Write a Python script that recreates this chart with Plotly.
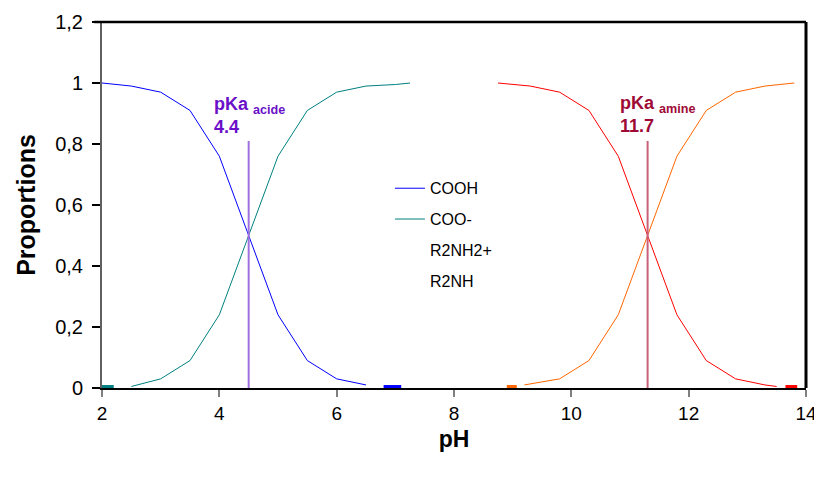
import plotly.graph_objects as go

# ---- data ----
ph_cooh = [2, 2.5, 3, 3.5, 4, 4.5, 5, 5.5, 6, 6.5]
cooh = [1.0, 0.99, 0.97, 0.91, 0.76, 0.5, 0.24, 0.09, 0.03, 0.01]

ph_coo = [2.5, 3, 3.5, 4, 4.5, 5, 5.5, 6, 6.5, 7, 7.25]
coo = [0.005, 0.03, 0.09, 0.24, 0.5, 0.76, 0.91, 0.97, 0.99, 0.995, 1.0]

ph_r2nh2 = [8.75, 9.3, 9.8, 10.3, 10.8, 11.3, 11.8, 12.3, 12.8, 13.3, 13.5]
r2nh2 = [1.0, 0.99, 0.97, 0.91, 0.76, 0.5, 0.24, 0.09, 0.03, 0.01, 0.005]

ph_r2nh = [9.2, 9.8, 10.3, 10.8, 11.3, 11.8, 12.3, 12.8, 13.3, 13.8]
r2nh = [0.01, 0.03, 0.09, 0.24, 0.5, 0.76, 0.91, 0.97, 0.99, 1.0]

# short thick segments lying on the zero line (start, end)
zero_cooh = [6.8, 7.1]
zero_coo = [2.0, 2.2]
zero_r2nh2 = [13.65, 13.85]
zero_r2nh = [8.9, 9.07]

pka_acide_x = 4.5
pka_amine_x = 11.3
pka_line_top = 0.81
pka_acide_label = "4.4"
pka_amine_label = "11.7"

x_ticks = [2, 4, 6, 8, 10, 12, 14]
y_ticks = [0, 0.2, 0.4, 0.6, 0.8, 1.0, 1.2]

FONT = "Liberation Sans, Arial, sans-serif"
C_COOH = "#0000FF"
C_COO = "#008080"
C_R2NH2 = "#FF0000"
C_R2NH = "#FF6600"

fig = go.Figure()

fig.add_trace(go.Scatter(x=ph_cooh, y=cooh, mode="lines", name="COOH",
                         line=dict(color=C_COOH, width=1), legendgroup="a"))
fig.add_trace(go.Scatter(x=ph_coo, y=coo, mode="lines", name="COO-",
                         line=dict(color=C_COO, width=1), legendgroup="b"))
fig.add_trace(go.Scatter(x=ph_r2nh2, y=r2nh2, mode="lines", name="R2NH2+",
                         line=dict(color=C_R2NH2, width=1), showlegend=False))
fig.add_trace(go.Scatter(x=ph_r2nh, y=r2nh, mode="lines", name="R2NH",
                         line=dict(color=C_R2NH, width=1), showlegend=False))
# legend-only entries without a line sample
fig.add_trace(go.Scatter(x=[None], y=[None], mode="lines", name="R2NH2+",
                         line=dict(color="rgba(0,0,0,0)", width=1), legendgroup="c"))
fig.add_trace(go.Scatter(x=[None], y=[None], mode="lines", name="R2NH",
                         line=dict(color="rgba(0,0,0,0)", width=1), legendgroup="d"))

for seg, col in [(zero_cooh, C_COOH), (zero_coo, C_COO),
                 (zero_r2nh2, C_R2NH2), (zero_r2nh, C_R2NH)]:
    fig.add_trace(go.Scatter(x=seg, y=[0.004, 0.004], mode="lines",
                             line=dict(color=col, width=3.5), showlegend=False,
                             hoverinfo="skip"))

fig.add_trace(go.Scatter(x=[pka_acide_x, pka_acide_x], y=[0, pka_line_top], mode="lines",
                         line=dict(color="#A070E0", width=2), showlegend=False))
fig.add_trace(go.Scatter(x=[pka_amine_x, pka_amine_x], y=[0, pka_line_top], mode="lines",
                         line=dict(color="#C8607A", width=2), showlegend=False))

fig.add_annotation(x=3.88, y=0.97, xref="x", yref="y", xanchor="left", yanchor="top",
                   align="left", showarrow=False,
                   text="<b>pKa</b> <b><sub>acide</sub></b><br><b>" + pka_acide_label + "</b>",
                   font=dict(family=FONT, size=18, color="#6A10C8"))
fig.add_annotation(x=10.79, y=0.975, xref="x", yref="y", xanchor="left", yanchor="top",
                   align="left", showarrow=False,
                   text="<b>pKa</b> <b><sub>amine</sub></b><br><b>" + pka_amine_label + "</b>",
                   font=dict(family=FONT, size=18, color="#9E0A35"))

# frame: top and right border
fig.add_shape(type="line", xref="paper", yref="paper", x0=-0.011, x1=1, y0=1, y1=1,
              line=dict(color="black", width=2.5))
fig.add_shape(type="line", xref="paper", yref="paper", x0=1, x1=1, y0=0, y1=1,
              line=dict(color="black", width=3))

# page body has an 8px margin, so the figure is sized/margined to compensate
fig.update_layout(
    width=814, height=471,
    margin=dict(l=94, r=16, t=14, b=91, autoexpand=False),
    paper_bgcolor="white", plot_bgcolor="white",
    separators=", ",
    font=dict(family=FONT, color="black"),
    showlegend=True,
    legend=dict(x=0.409, y=0.592, xref="paper", yref="paper", xanchor="left", yanchor="top",
                bgcolor="rgba(0,0,0,0)", font=dict(family=FONT, size=16, color="black"),
                tracegroupgap=7, itemwidth=30),
    xaxis=dict(range=[2, 14], tickvals=x_ticks, ticks="outside", ticklen=7, tickwidth=1.5,
               tickcolor="#808080", showline=True, linecolor="black", linewidth=1.5,
               showgrid=False, zeroline=False, automargin=False,
               tickfont=dict(family=FONT, size=19, color="black"),
               title=dict(text="<b>pH</b>", font=dict(family=FONT, size=23, color="black"),
                          standoff=8)),
    yaxis=dict(range=[0, 1.2], tickvals=y_ticks, ticks="outside", ticklen=8, tickwidth=1.5,
               tickcolor="black", showline=True, linecolor="#606060", linewidth=2,
               showgrid=False, zeroline=False, automargin=False, ticklabelstandoff=5,
               tickfont=dict(family=FONT, size=20, color="black"),
               title=dict(text="<b>Proportions</b>", font=dict(family=FONT, size=25, color="black"),
                          standoff=12)),
)

fig.write_html("out.html")
